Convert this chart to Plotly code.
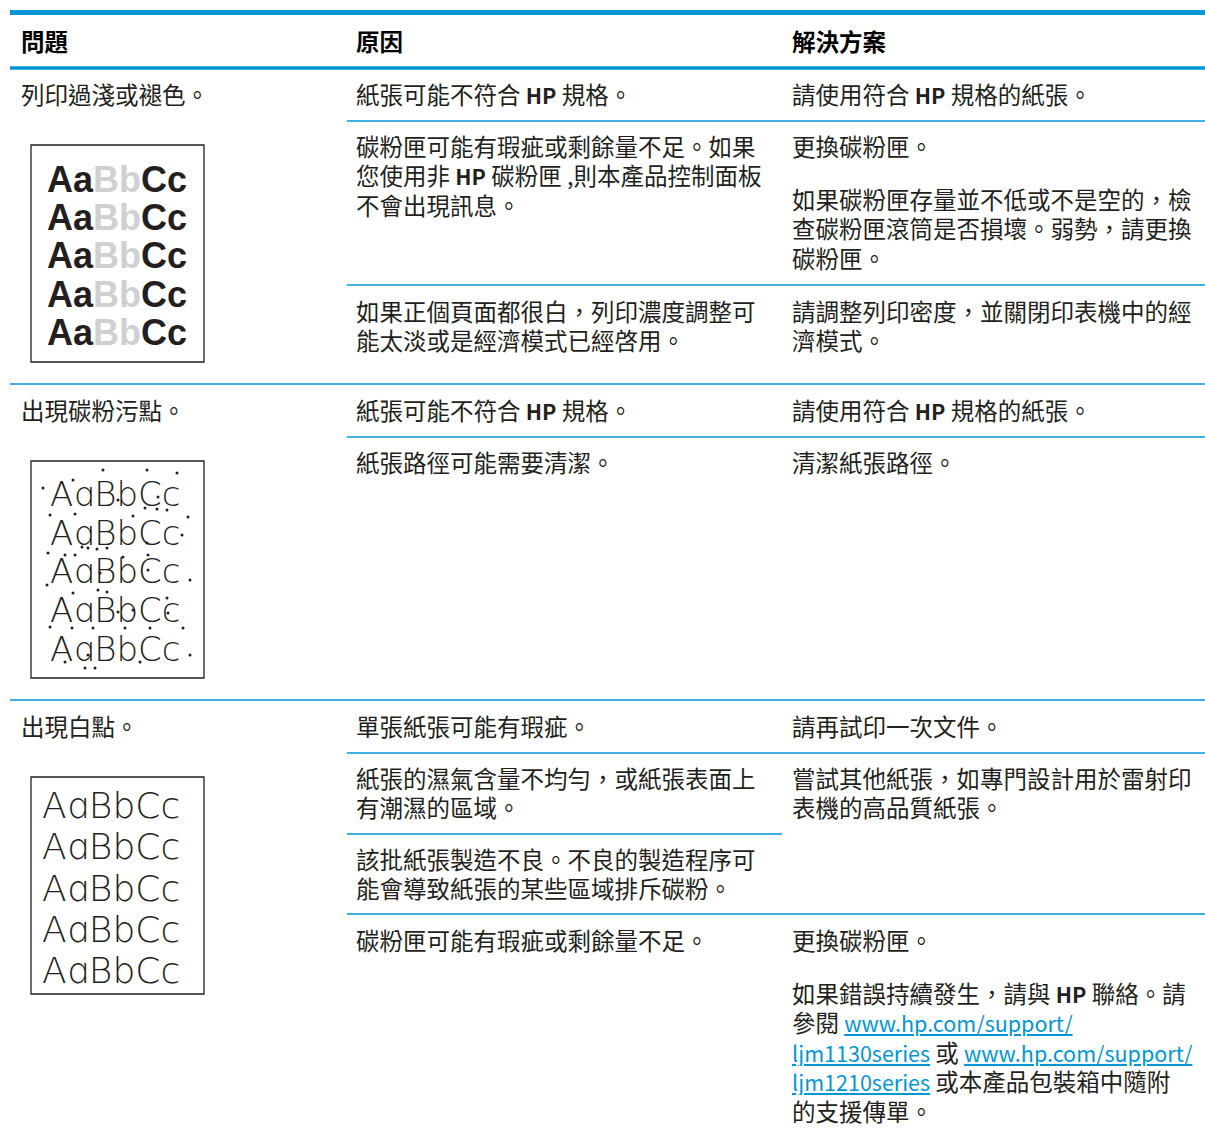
import plotly.graph_objects as go

W, H = 1205, 1134
BLUE = "#0096d6"
TXT = "#231f20"
CJK = "Noto Sans CJK TC"

# ---------------- table content ----------------
headers = ["問題", "原因", "解決方案"]

problems = ["列印過淺或褪色。", "出現碳粉污點。", "出現白點。"]

HPB = '<span style="font-size:21.5px"><b>HP</b></span>'
causes = [
    [["紙張可能不符合 " + HPB + " 規格。"],
     ["碳粉匣可能有瑕疵或剩餘量不足。如果", "您使用非 " + HPB + " 碳粉匣 ,則本產品控制面板", "不會出現訊息。"],
     ["如果正個頁面都很白，列印濃度調整可", "能太淡或是經濟模式已經啓用。"]],
    [["紙張可能不符合 " + HPB + " 規格。"],
     ["紙張路徑可能需要清潔。"]],
    [["單張紙張可能有瑕疵。"],
     ["紙張的濕氣含量不均勻，或紙張表面上", "有潮濕的區域。"],
     ["該批紙張製造不良。不良的製造程序可", "能會導致紙張的某些區域排斥碳粉。"],
     ["碳粉匣可能有瑕疵或剩餘量不足。"]],
]

LINK = '<span style="color:#0096d6;text-decoration:underline;font-size:21.5px">{}</span>'
solutions = [
    [[["請使用符合 " + HPB + " 規格的紙張。"]],
     [["更換碳粉匣。"], ["如果碳粉匣存量並不低或不是空的，檢", "查碳粉匣滾筒是否損壞。弱勢，請更換", "碳粉匣。"]],
     [["請調整列印密度，並關閉印表機中的經", "濟模式。"]]],
    [[["請使用符合 " + HPB + " 規格的紙張。"]],
     [["清潔紙張路徑。"]]],
    [[["請再試印一次文件。"]],
     [["嘗試其他紙張，如專門設計用於雷射印", "表機的高品質紙張。"]],
     None,
     [["更換碳粉匣。"],
      ["如果錯誤持續發生，請與 " + HPB + " 聯絡。請",
       "參閱 " + LINK.format("www.hp.com/support/"),
       LINK.format("ljm1130series") + " 或 " + LINK.format("www.hp.com/support/"),
       LINK.format("ljm1210series") + " 或本產品包裝箱中隨附",
       "的支援傳單。"]]],
]

sample_text = ["AaBbCc", "AɑBbCc", "AɑBbCc"]

# speck positions
speck_x = [103, 147, 177, 73, 43, 118, 158, 50, 75, 133, 145, 157, 167, 188, 182, 147, 82, 88, 97, 107,
           48, 65, 75, 123, 148, 100, 148, 190, 47, 73, 98, 107, 167, 118, 133, 168, 50, 72, 93, 125,
           150, 183, 88, 190, 65, 140, 85, 95]
speck_y = [470, 470, 473, 480, 488, 500, 497, 515, 514, 516, 508, 509, 510, 517, 535, 543, 547, 548, 549, 548,
           553, 555, 555, 557, 555, 573, 570, 580, 585, 593, 590, 592, 598, 612, 610, 613, 627, 628, 628, 628,
           628, 628, 655, 655, 662, 662, 668, 668]

# ---------------- layout geometry ----------------
col_x = [19, 354, 790]
LH = 29.5
FS = 23.5

group_top = [93.5, 409.5, 725.5]
sub_top = [[93.5, 145.5, 310.5], [409.5, 461.5], [725.5, 777.5, 858.5, 939.5]]
sol_para_gap = 53
sub_lines = [[121, 285], [437], [753, 834, 914]]
sub_line_right = [[1205, 1205], [1205], [1205, 782, 1205]]
group_lines = [384, 700]
boxes = [(31, 145, 204, 362), (31, 461, 204, 678), (31, 777, 204, 994)]
sample_rows = [[179, 217, 255, 294, 332], [493, 532, 570, 609, 648], [805, 846, 888, 929, 970]]
sample_x = [45, 48, 40]

fig = go.Figure()
shapes = []
ann = []

def add_text(x, y, txt, size=FS, color=TXT, bold=False, family=CJK, weight=None, box_h=None):
    f = dict(family=family, size=size, color=color)
    if weight:
        f["weight"] = weight
    a = dict(x=x, y=y, xref="x", yref="y", text=("<b>%s</b>" % txt) if bold else txt,
             showarrow=False, xanchor="left", yanchor="middle", align="left", font=f,
             borderpad=0)
    if box_h:
        a["height"] = box_h
        a["valign"] = "middle"
    ann.append(a)

# header
shapes.append(dict(type="line", x0=10, x1=W, y0=12.5, y1=12.5, line=dict(color=BLUE, width=5)))
shapes.append(dict(type="line", x0=10, x1=W, y0=68, y1=68, line=dict(color=BLUE, width=3.5)))
for i, h in enumerate(headers):
    add_text(col_x[i] + 1, 40.5, h, size=23.5, color="#000000", bold=True)

for gl in group_lines:
    shapes.append(dict(type="line", x0=10, x1=W, y0=gl, y1=gl, line=dict(color=BLUE, width=1.5)))

for g in range(3):
    add_text(col_x[0] + 1, group_top[g], problems[g], box_h=28)
    for si, yl in enumerate(sub_lines[g]):
        shapes.append(dict(type="line", x0=347, x1=sub_line_right[g][si], y0=yl, y1=yl,
                           line=dict(color=BLUE, width=1.5)))
    for s, lines in enumerate(causes[g]):
        for k, t in enumerate(lines):
            add_text(col_x[1] + 1, sub_top[g][s] + k * LH, t, box_h=28)
    for s, paras in enumerate(solutions[g]):
        if paras is None:
            continue
        y = sub_top[g][s]
        for p in paras:
            for k, t in enumerate(p):
                add_text(col_x[2] + 1, y + k * LH, t, box_h=28)
            y += sol_para_gap

# sample boxes
for b, (x0, y0, x1, y1) in enumerate(boxes):
    shapes.append(dict(type="rect", x0=x0, x1=x1, y0=y0, y1=y1, layer="below",
                       line=dict(color="#231f20", width=1.3), fillcolor="white"))
for r in sample_rows[0]:
    add_text(sample_x[0] + 1, r,
             'Aa<span style="color:#cfd0d2">Bb</span>Cc',
             size=36, color="#231f20", bold=True, family="Liberation Sans", box_h=37)
for r in sample_rows[1]:
    add_text(sample_x[1] + 1, r, sample_text[1], size=34, color="#231f20", family="DejaVu Sans",
             weight=200, box_h=37)
for r in sample_rows[2]:
    add_text(sample_x[2] + 1, r, sample_text[2], size=36, color="#231f20", family="DejaVu Sans",
             weight=200, box_h=40)

fig.add_trace(go.Scatter(x=speck_x, y=speck_y, mode="markers",
                         marker=dict(size=3, color="#231f20", symbol="circle"),
                         hoverinfo="skip", showlegend=False))

fig.update_layout(width=W, height=H, margin=dict(l=0, r=0, t=0, b=0),
                  paper_bgcolor="white", plot_bgcolor="white",
                  xaxis=dict(range=[0, W], visible=False, fixedrange=True),
                  yaxis=dict(range=[H, 0], visible=False, fixedrange=True),
                  shapes=shapes, annotations=ann, showlegend=False,
                  font=dict(family=CJK, color=TXT))
fig.write_html("out.html", config={"displayModeBar": False},
               post_script="document.body.style.margin='0';document.body.style.overflow='hidden';")
